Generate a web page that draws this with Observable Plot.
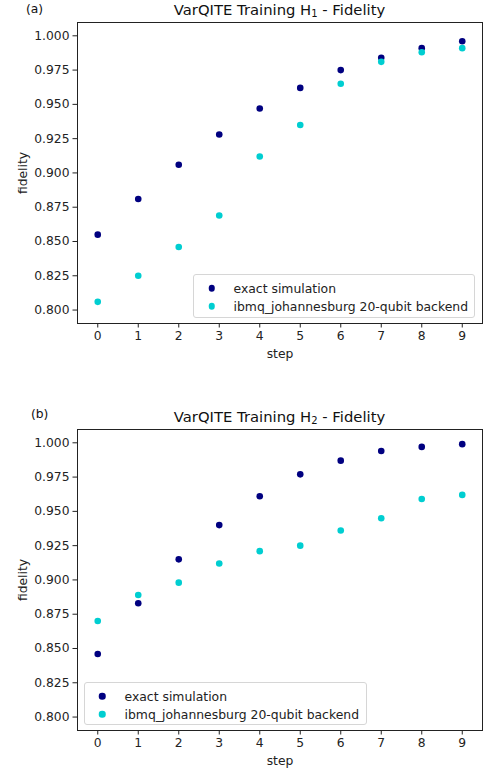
<!DOCTYPE html>
<html>
<head>
<meta charset="utf-8">
<script src="https://cdn.jsdelivr.net/npm/d3@7"></script>
<script src="https://cdn.jsdelivr.net/npm/@observablehq/plot@0.6"></script>
<style>
  body { margin: 0; background: #fff; font-family: "DejaVu Sans", sans-serif; }
  #root { position: relative; width: 484px; height: 770px; overflow: hidden; }
  .panel { position: absolute; left: 0; width: 484px; }
  .ttl { position: absolute; font-size: 14.8px; color: #111; white-space: nowrap; transform: translate(-50%, -50%); }
  .ttl sub { font-size: 10px; vertical-align: -2px; }
  .tag { position: absolute; font-size: 12.3px; color: #111; transform: translateY(-50%); }
  .legend { position: absolute; border: 1px solid #d6d6d6; border-radius: 3px; background: rgba(255,255,255,0.85); font-size: 12.4px; color: #222; box-sizing: border-box; }
  .legend .row { position: absolute; left: 0; white-space: nowrap; transform: translateY(-50%); }
  .legend .sw { position: absolute; width: 6.5px; height: 6.5px; border-radius: 50%; transform: translate(-50%, -50%); }
  svg { position: absolute; left: 0; top: 0; }
</style>
</head>
<body>
<div id="root"></div>
<script>
const steps = [0, 1, 2, 3, 4, 5, 6, 7, 8, 9];
const exactA   = [0.855, 0.881, 0.906, 0.928, 0.947, 0.962, 0.975, 0.984, 0.991, 0.996];
const backendA = [0.806, 0.825, 0.846, 0.869, 0.912, 0.935, 0.965, 0.981, 0.988, 0.991];
const exactB   = [0.846, 0.883, 0.915, 0.940, 0.961, 0.977, 0.987, 0.994, 0.997, 0.999];
const backendB = [0.870, 0.889, 0.898, 0.912, 0.921, 0.925, 0.936, 0.945, 0.959, 0.962];
const seriesNames = ["exact simulation", "ibmq_johannesburg 20-qubit backend"];
const seriesColors = ["#000080", "#00CED1"];
const yTicks = [0.800, 0.825, 0.850, 0.875, 0.900, 0.925, 0.950, 0.975, 1.000];
const titles = ["VarQITE Training H<sub>1</sub> - Fidelity", "VarQITE Training H<sub>2</sub> - Fidelity"];
const tags = ["(a)", "(b)"];

const root = document.getElementById("root");

function makePanel(idx, exact, backend, top, tagX, tagY, legendBox) {
  const panel = document.createElement("div");
  panel.className = "panel";
  panel.style.top = top + "px";
  panel.style.height = "360px";
  root.appendChild(panel);

  const data = [];
  steps.forEach((s, i) => data.push({step: s, value: exact[i], series: seriesNames[0]}));
  steps.forEach((s, i) => data.push({step: s, value: backend[i], series: seriesNames[1]}));

  const chart = Plot.plot({
    width: 484,
    height: 360,
    marginTop: 22,
    marginBottom: 37,
    marginLeft: 77,
    marginRight: 2,
    style: {fontFamily: "DejaVu Sans, sans-serif", fontSize: "12.3px", color: "#222", background: "transparent", overflow: "visible"},
    x: {domain: [-0.5, 9.5], ticks: steps, tickFormat: d3.format("d")},
    y: {domain: [0.7902, 1.0097], ticks: yTicks, tickFormat: d3.format(".3f")},
    color: {domain: seriesNames, range: seriesColors},
    marks: [
      Plot.frame({stroke: "#222", strokeWidth: 1}),
      Plot.axisX({ticks: steps, tickFormat: d3.format("d"), tickSize: 4.5, tickPadding: 3, label: "step", labelAnchor: "center", labelArrow: "none", labelOffset: 34, fontSize: 12.3}),
      Plot.axisY({ticks: yTicks, tickFormat: d3.format(".3f"), tickSize: 4.5, tickPadding: 3.5, label: "fidelity", labelAnchor: "center", labelArrow: "none", labelOffset: 59, fontSize: 12.3}),
      Plot.dot(data, {x: "step", y: "value", fill: "series", r: 3.3, stroke: null})
    ]
  });
  panel.appendChild(chart);

  const t = document.createElement("div");
  t.className = "ttl";
  t.innerHTML = titles[idx];
  t.style.left = "279.5px";
  t.style.top = "10px";
  panel.appendChild(t);

  const g = document.createElement("div");
  g.className = "tag";
  g.textContent = tags[idx];
  g.style.left = tagX + "px";
  g.style.top = tagY + "px";
  panel.appendChild(g);

  const lg = document.createElement("div");
  lg.className = "legend";
  lg.style.left = legendBox.x + "px";
  lg.style.top = legendBox.y + "px";
  lg.style.width = legendBox.w + "px";
  lg.style.height = legendBox.h + "px";
  seriesNames.forEach((name, i) => {
    const yy = 13 + i * 18;
    const sw = document.createElement("div");
    sw.className = "sw";
    sw.style.background = seriesColors[i];
    sw.style.left = legendBox.mx + "px";
    sw.style.top = yy + "px";
    lg.appendChild(sw);
    const row = document.createElement("div");
    row.className = "row";
    row.textContent = name;
    row.style.left = legendBox.tx + "px";
    row.style.top = yy + "px";
    lg.appendChild(row);
  });
  panel.appendChild(lg);
}

makePanel(0, exactA, backendA, 0, 26, 9, {x: 193, y: 274, w: 282, h: 44, mx: 17.5, tx: 39.5});
makePanel(1, exactB, backendB, 407, 31, 7, {x: 84, y: 275, w: 283, h: 43, mx: 17, tx: 39.5});
</script>
</body>
</html>
